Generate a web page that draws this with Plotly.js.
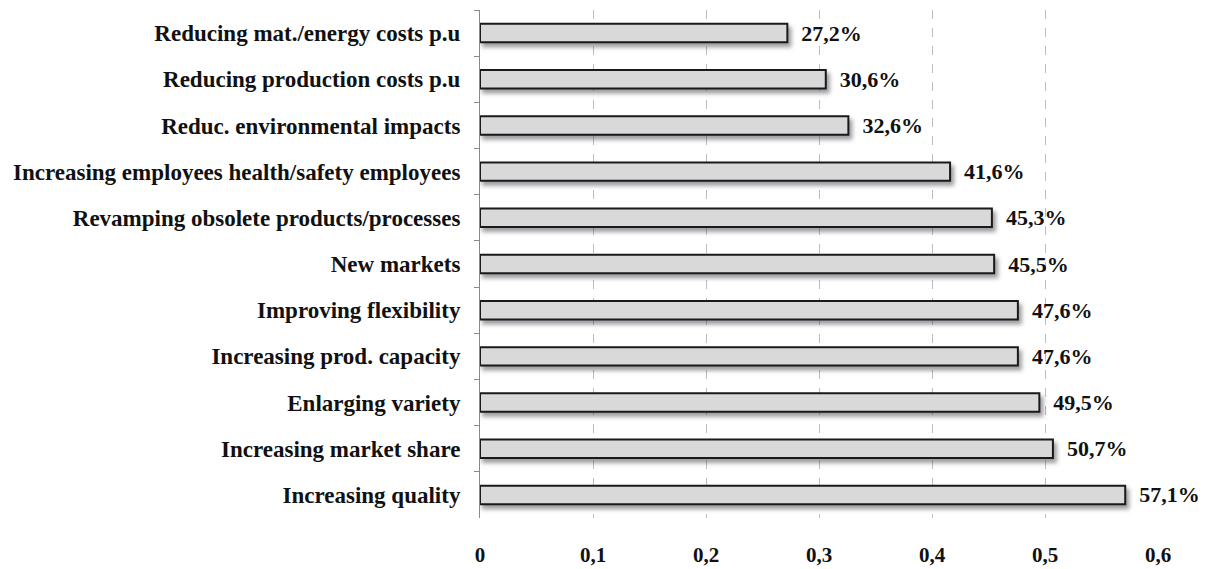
<!DOCTYPE html>
<html>
<head>
<meta charset="utf-8">
<script src="https://cdn.plot.ly/plotly-3.0.1.min.js"></script>
<style>
html,body{margin:0;padding:0;background:#fff;}
#chart{width:1205px;height:569px;}
.trace.bars .point path{filter:drop-shadow(3px 4px 2px rgba(60,60,70,0.5));}
</style>
</head>
<body>
<div id="chart"></div>
<script>
const categories = [
  "Reducing mat./energy costs p.u",
  "Reducing production costs p.u",
  "Reduc. environmental impacts",
  "Increasing employees health/safety employees",
  "Revamping obsolete products/processes",
  "New markets",
  "Improving flexibility",
  "Increasing prod. capacity",
  "Enlarging variety",
  "Increasing market share",
  "Increasing quality"
];
const values = [0.272, 0.306, 0.326, 0.416, 0.453, 0.455, 0.476, 0.476, 0.495, 0.507, 0.571];
const valueLabels = ["27,2%", "30,6%", "32,6%", "41,6%", "45,3%", "45,5%", "47,6%", "47,6%", "49,5%", "50,7%", "57,1%"];
const xTickVals = [0, 0.1, 0.2, 0.3, 0.4, 0.5, 0.6];
const xTickText = ["0", "0,1", "0,2", "0,3", "0,4", "0,5", "0,6"];

const serif = "Liberation Serif, Times New Roman, serif";

const trace = {
  type: "bar",
  orientation: "h",
  x: values,
  y: categories,
  text: valueLabels.map(function (s) { return "\u00a0\u00a0" + s; }),
  textposition: "outside",
  constraintext: "none",
  cliponaxis: false,
  textfont: {family: serif, size: 22, color: "#111", weight: "bold"},
  marker: {color: "#d9d9d9", line: {color: "#1a1a1a", width: 2}},
  hoverinfo: "none"
};

const layout = {
  width: 1205,
  height: 569,
  margin: {l: 480, r: 47, t: 10, b: 51},
  paper_bgcolor: "#fff",
  plot_bgcolor: "#fff",
  showlegend: false,
  bargap: 0.6,
  xaxis: {
    range: [0, 0.6],
    tickvals: xTickVals,
    ticktext: xTickText,
    showgrid: true,
    gridcolor: "#bdbdbd",
    griddash: "dash",
    gridwidth: 1,
    zeroline: false,
    showline: false,
    ticks: "",
    ticklabelstandoff: 22,
    tickfont: {family: serif, size: 21, color: "#111", weight: "bold"}
  },
  yaxis: {
    type: "category",
    autorange: "reversed",
    showline: true,
    linecolor: "#8a8a8a",
    linewidth: 1,
    ticks: "outside",
    tickson: "boundaries",
    ticklen: 5,
    tickcolor: "#8a8a8a",
    showgrid: false,
    zeroline: false,
    ticklabelstandoff: 14,
    tickfont: {family: serif, size: 23, color: "#111", weight: "bold"}
  }
};

Plotly.newPlot("chart", [trace], layout, {displayModeBar: false, staticPlot: true});
</script>
</body>
</html>
